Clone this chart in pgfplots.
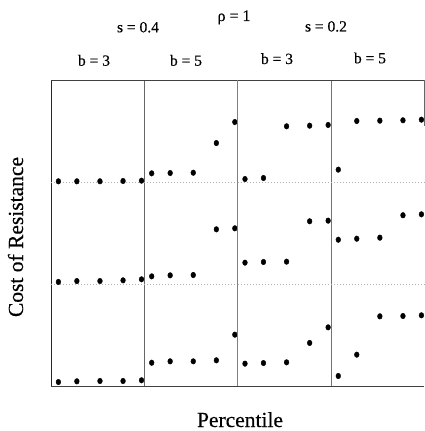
\documentclass[border=0pt]{standalone}
\usepackage{pgfplots}
\pgfplotsset{compat=1.18}
\usepackage{pgfplotstable}
\usepackage{fontspec}
\setmainfont{Liberation Serif}[FakeBold=0.3]

\pgfplotstableread{
x y
5 2.007
25 2.007
50 2.007
75 2.010
95 2.013
5 1.020
25 1.029
50 1.029
75 1.036
95 1.046
5 0.039
25 0.046
50 0.049
75 0.049
95 0.056
}\colA
\pgfplotstableread{
x y
5 2.085
25 2.088
50 2.091
75 2.382
95 2.588
5 1.075
25 1.085
50 1.088
75 1.536
95 1.546
5 0.228
25 0.242
50 0.242
75 0.252
95 0.503
}\colB
\pgfplotstableread{
x y
5 2.029
25 2.039
50 2.546
75 2.552
95 2.559
5 1.209
25 1.216
50 1.219
75 1.615
95 1.621
5 0.219
25 0.225
50 0.232
75 0.422
95 0.575
}\colC
\pgfplotstableread{
x y
5 2.121
25 2.598
50 2.601
75 2.605
95 2.611
5 1.434
25 1.444
50 1.454
75 1.674
95 1.683
5 0.098
25 0.307
50 0.683
75 0.686
95 0.693
}\colD

\pgfplotsset{panel/.style={
  anchor=south west, width=93.3pt, height=306pt, scale only axis,
  xmin=-3, xmax=98, ymin=0, ymax=3, clip=false,
  axis line style={draw=none}, ticks=none,
}}
\tikzset{dot/.style={only marks, mark=*, mark size=2.8pt, mark options={fill=black, draw=black, xscale=0.85}}}

\begin{document}
\begin{tikzpicture}
\path[use as bounding box] (0,0) rectangle (425pt,431pt);

% column 1
\begin{axis}[panel, at={(51pt,45pt)}]
\addplot[dot] table[x=x,y=y] {\colA};
\draw[black!85, line width=0.9pt] (rel axis cs:0,0) -- (rel axis cs:0,1);
\draw[black!75, line width=0.7pt] (rel axis cs:0,1) -- (rel axis cs:1,1);
\draw[black!75, line width=0.7pt] (rel axis cs:0,0) -- (rel axis cs:1,0);
\draw[gray!60, dash pattern=on 1pt off 2pt] (rel axis cs:0,1/3) -- (rel axis cs:1,1/3);
\draw[gray!60, dash pattern=on 1pt off 2pt] (rel axis cs:0,2/3) -- (rel axis cs:1,2/3);
\end{axis}

% column 2
\begin{axis}[panel, at={(144.3pt,45pt)}]
\addplot[dot] table[x=x,y=y] {\colB};
\draw[black!60, line width=0.5pt] (rel axis cs:0,0) -- (rel axis cs:0,1);
\draw[black!75, line width=0.7pt] (rel axis cs:0,1) -- (rel axis cs:1,1);
\draw[black!75, line width=0.7pt] (rel axis cs:0,0) -- (rel axis cs:1,0);
\draw[gray!60, dash pattern=on 1pt off 2pt] (rel axis cs:0,1/3) -- (rel axis cs:1,1/3);
\draw[gray!60, dash pattern=on 1pt off 2pt] (rel axis cs:0,2/3) -- (rel axis cs:1,2/3);
\end{axis}

% column 3
\begin{axis}[panel, at={(237.6pt,45pt)}]
\addplot[dot] table[x=x,y=y] {\colC};
\draw[black!50, line width=0.5pt] (rel axis cs:0,0) -- (rel axis cs:0,1);
\draw[black!75, line width=0.7pt] (rel axis cs:0,1) -- (rel axis cs:1,1);
\draw[black!75, line width=0.7pt] (rel axis cs:0,0) -- (rel axis cs:1,0);
\draw[gray!60, dash pattern=on 1pt off 2pt] (rel axis cs:0,1/3) -- (rel axis cs:1,1/3);
\draw[gray!60, dash pattern=on 1pt off 2pt] (rel axis cs:0,2/3) -- (rel axis cs:1,2/3);
\end{axis}

% column 4
\begin{axis}[panel, at={(330.9pt,45pt)}]
\addplot[dot] table[x=x,y=y] {\colD};
\draw[black!55, line width=0.5pt] (rel axis cs:0,0) -- (rel axis cs:0,1);
\draw[black!75, line width=0.7pt] (rel axis cs:0,1) -- (rel axis cs:1,1);
\draw[black!75, line width=0.7pt] (rel axis cs:0,0) -- (rel axis cs:1,0);
\draw[black!60, line width=0.5pt] (rel axis cs:1,1) -- (axis cs:98,2.55);
\draw[gray!60, dash pattern=on 1pt off 2pt] (rel axis cs:0,1/3) -- (rel axis cs:1,1/3);
\draw[gray!60, dash pattern=on 1pt off 2pt] (rel axis cs:0,2/3) -- (rel axis cs:1,2/3);
\end{axis}

% titles
\node[anchor=base, font=\fontsize{16}{18}\selectfont] at (234pt,410pt) {ρ = 1};
\node[anchor=base, font=\fontsize{15.5}{18}\selectfont] at (138pt,398.7pt) {s = 0.4};
\node[anchor=base, font=\fontsize{15.5}{18}\selectfont] at (326pt,399.5pt) {s = 0.2};
\node[anchor=base, font=\fontsize{15.5}{18}\selectfont] at (94pt,365.3pt) {b = 3};
\node[anchor=base, font=\fontsize{15.5}{18}\selectfont] at (186pt,365.3pt) {b = 5};
\node[anchor=base, font=\fontsize{15.5}{18}\selectfont] at (277pt,367pt) {b = 3};
\node[anchor=base, font=\fontsize{15.5}{18}\selectfont] at (370pt,367.7pt) {b = 5};

% axis labels
\node[anchor=base, font=\fontsize{21.5}{24}\selectfont] at (240pt,4pt) {Percentile};
\node[anchor=base, rotate=90, font=\fontsize{21.5}{24}\selectfont] at (23pt,194pt) {Cost of Resistance};
\end{tikzpicture}
\end{document}
